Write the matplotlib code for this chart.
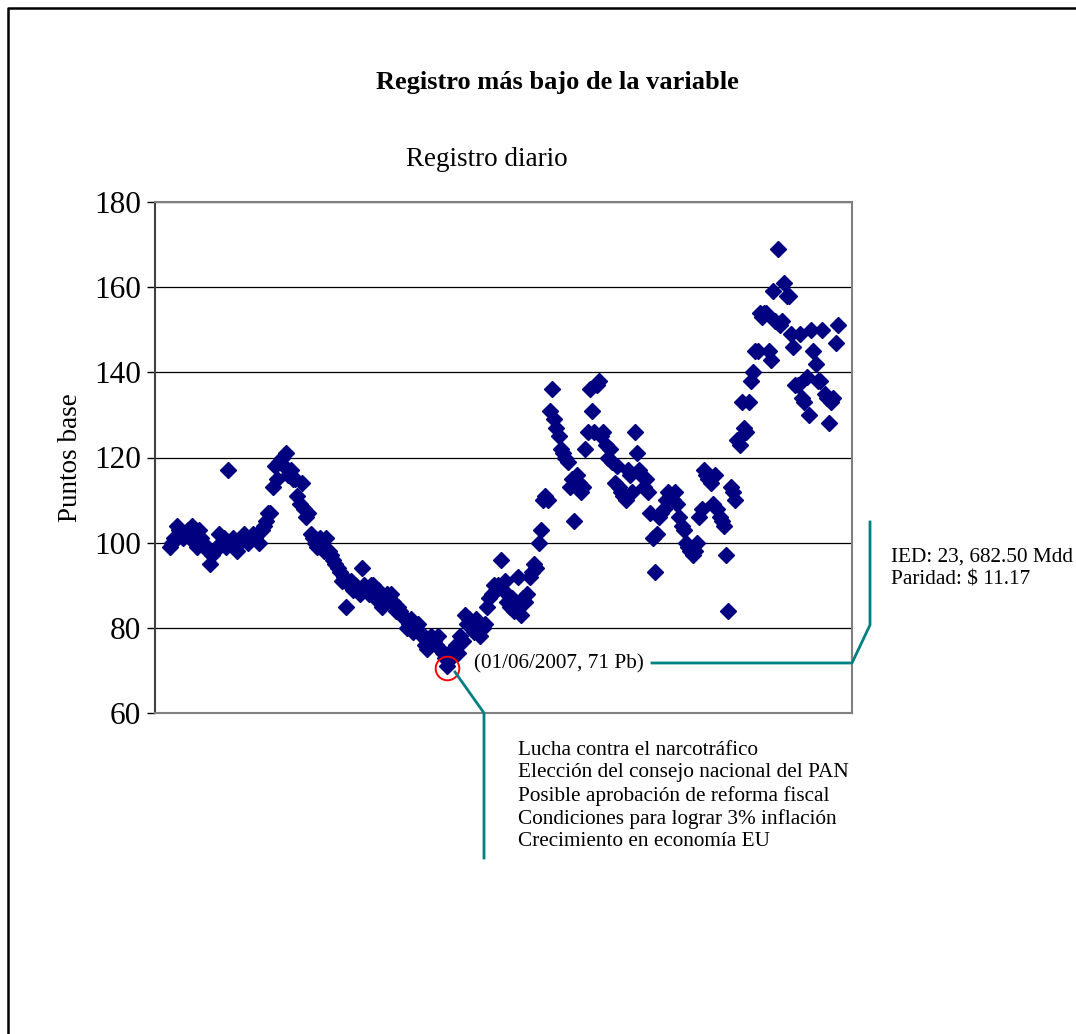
import matplotlib.pyplot as plt
import numpy as np

plt.rcParams['font.family'] = ['Liberation Serif', 'DejaVu Serif']

# Puntos base, registro diario (orden cronológico)
puntos = [
    99, 100, 101, 104, 103, 102, 101, 102, 103, 101, 104, 100, 99, 103, 101,
    100, 99, 98, 95, 97, 98, 99, 102, 100, 101, 99,
    117,
    100, 101, 99, 98, 100, 101, 102, 101, 100, 101, 102, 101, 102, 100, 103,
    104, 105, 107, 107, 113, 118, 115, 119, 120, 118,
    121,
    116, 117, 115, 115, 111, 109, 114, 108, 106, 107, 102, 101, 100, 99, 101,
    100, 98, 101, 98, 97, 96, 95, 94, 93, 91, 92,
    85,
    90, 91, 89, 90, 89, 88, 94, 90, 89, 88, 90, 90, 87, 89, 86, 85, 86, 88,
    87, 88, 86, 84, 85, 84, 83, 82, 80, 81, 82, 79, 80, 81, 79, 78, 76, 75,
    77, 78, 77, 76, 78, 75, 74, 73,
    71,
    74, 73, 75, 76, 74, 78, 77, 83, 81, 82, 80, 79, 82, 81, 78, 80, 81, 85,
    87, 88, 90, 89, 90,
    96,
    89, 91, 86, 85, 87, 84, 85, 92, 83, 87, 86, 88, 92, 93, 95, 94, 100, 103,
    110, 111, 110, 131,
    136,
    129, 127, 125, 122, 121, 120, 119, 113, 115,
    105,
    116, 114, 112, 113, 122, 126, 136, 131, 126, 137,
    138,
    125, 126, 123, 120, 122, 119, 114, 118, 113, 112, 111, 110, 117, 116, 112,
    126,
    121, 117, 116, 113, 115, 112, 107, 101,
    93,
    102, 106, 107, 108, 110, 112, 111, 110, 112, 109, 106, 104, 103, 100, 99,
    98, 97, 98, 100, 106, 108, 117, 116, 115, 114, 109, 116, 108, 106, 105,
    104, 97,
    84,
    113, 112, 110, 124, 123, 133, 127, 126, 133, 138, 140, 145, 145, 154, 153,
    154, 154, 145, 143, 159, 152,
    169,
    151, 152, 161, 158, 158, 149, 146, 137, 137, 149, 134, 133, 139, 130, 150,
    145, 142, 138, 138, 150, 135, 134, 128, 133, 134, 147, 151,
]
fecha_min = '01/06/2007'
eventos = [
    'Lucha contra el narcotráfico',
    'Elección del consejo nacional del PAN',
    'Posible aprobación de reforma fiscal',
    'Condiciones para lograr 3% inflación',
    'Crecimiento en economía EU',
]
ied = '23, 682.50 Mdd'
paridad = 11.17

W, H = 1076, 1034


def fx(x):
    return x / W


def fy(y):
    return 1 - y / H


dias = np.arange(len(puntos))
valores = np.array(puntos)
i_min = int(np.argmin(valores))

fig = plt.figure(figsize=(W / 100, H / 100), dpi=100)
ax = fig.add_axes([fx(155), fy(713), (852 - 155) / W, (713 - 202) / H])

ax.plot(dias, valores, 'D', color='#000080', ms=7.8, mec='#000080', zorder=3)
ax.plot(dias[i_min], valores[i_min] - 0.4, 'o', ms=17, mfc='none', mec='red',
        mew=1.4, zorder=4)

ax.set_ylim(60, 180)
ax.set_xlim(-6.7, len(puntos) - 1 + 6.3)
ax.set_yticks(range(60, 181, 20))
ax.set_xticks([])
ax.tick_params(axis='y', labelsize=22.5, length=6, width=1, pad=4)
ax.yaxis.grid(True, color='black', lw=0.9)
ax.set_axisbelow(True)
for s in ['top', 'right', 'bottom']:
    ax.spines[s].set_color('#808080')
    ax.spines[s].set_linewidth(1.5)
ax.spines['left'].set_color('#404040')
ax.spines['left'].set_linewidth(1.5)
ax.set_ylabel('Puntos base', fontsize=19.5, labelpad=8)

fig.text(fx(557), fy(82), 'Registro más bajo de la variable', fontsize=19,
         fontweight='bold', ha='center', va='center')
fig.text(fx(487), fy(160), 'Registro diario', fontsize=19.5, ha='center',
         va='center')

# marco exterior
fig.add_artist(plt.Line2D([fx(8), fx(8), fx(1080)], [fy(1040), fy(8), fy(8)],
                          transform=fig.transFigure, color='black', lw=1.8))

teal = '#008080'
ax.text(dias[i_min] + 12, valores[i_min] + 0.5,
        f'({fecha_min}, {valores[i_min]} Pb)', fontsize=15.3, va='center')
fig.add_artist(plt.Line2D([fx(652), fx(852), fx(870), fx(870)],
                          [fy(663), fy(663), fy(625), fy(522)],
                          transform=fig.transFigure, color=teal, lw=2))
fig.text(fx(891), fy(557), f'IED: {ied}', fontsize=15.3, va='center')
fig.text(fx(891), fy(580), f'Paridad: \\$ {paridad:.2f}', fontsize=15.3,
         va='center')

fig.add_artist(plt.Line2D([fx(455), fx(484), fx(484)],
                          [fy(672), fy(713), fy(858)],
                          transform=fig.transFigure, color=teal, lw=2))
fig.text(fx(518), fy(796), '\n'.join(eventos), fontsize=15.3, va='center',
         linespacing=1.24)

fig.savefig('out.png', dpi=100)
